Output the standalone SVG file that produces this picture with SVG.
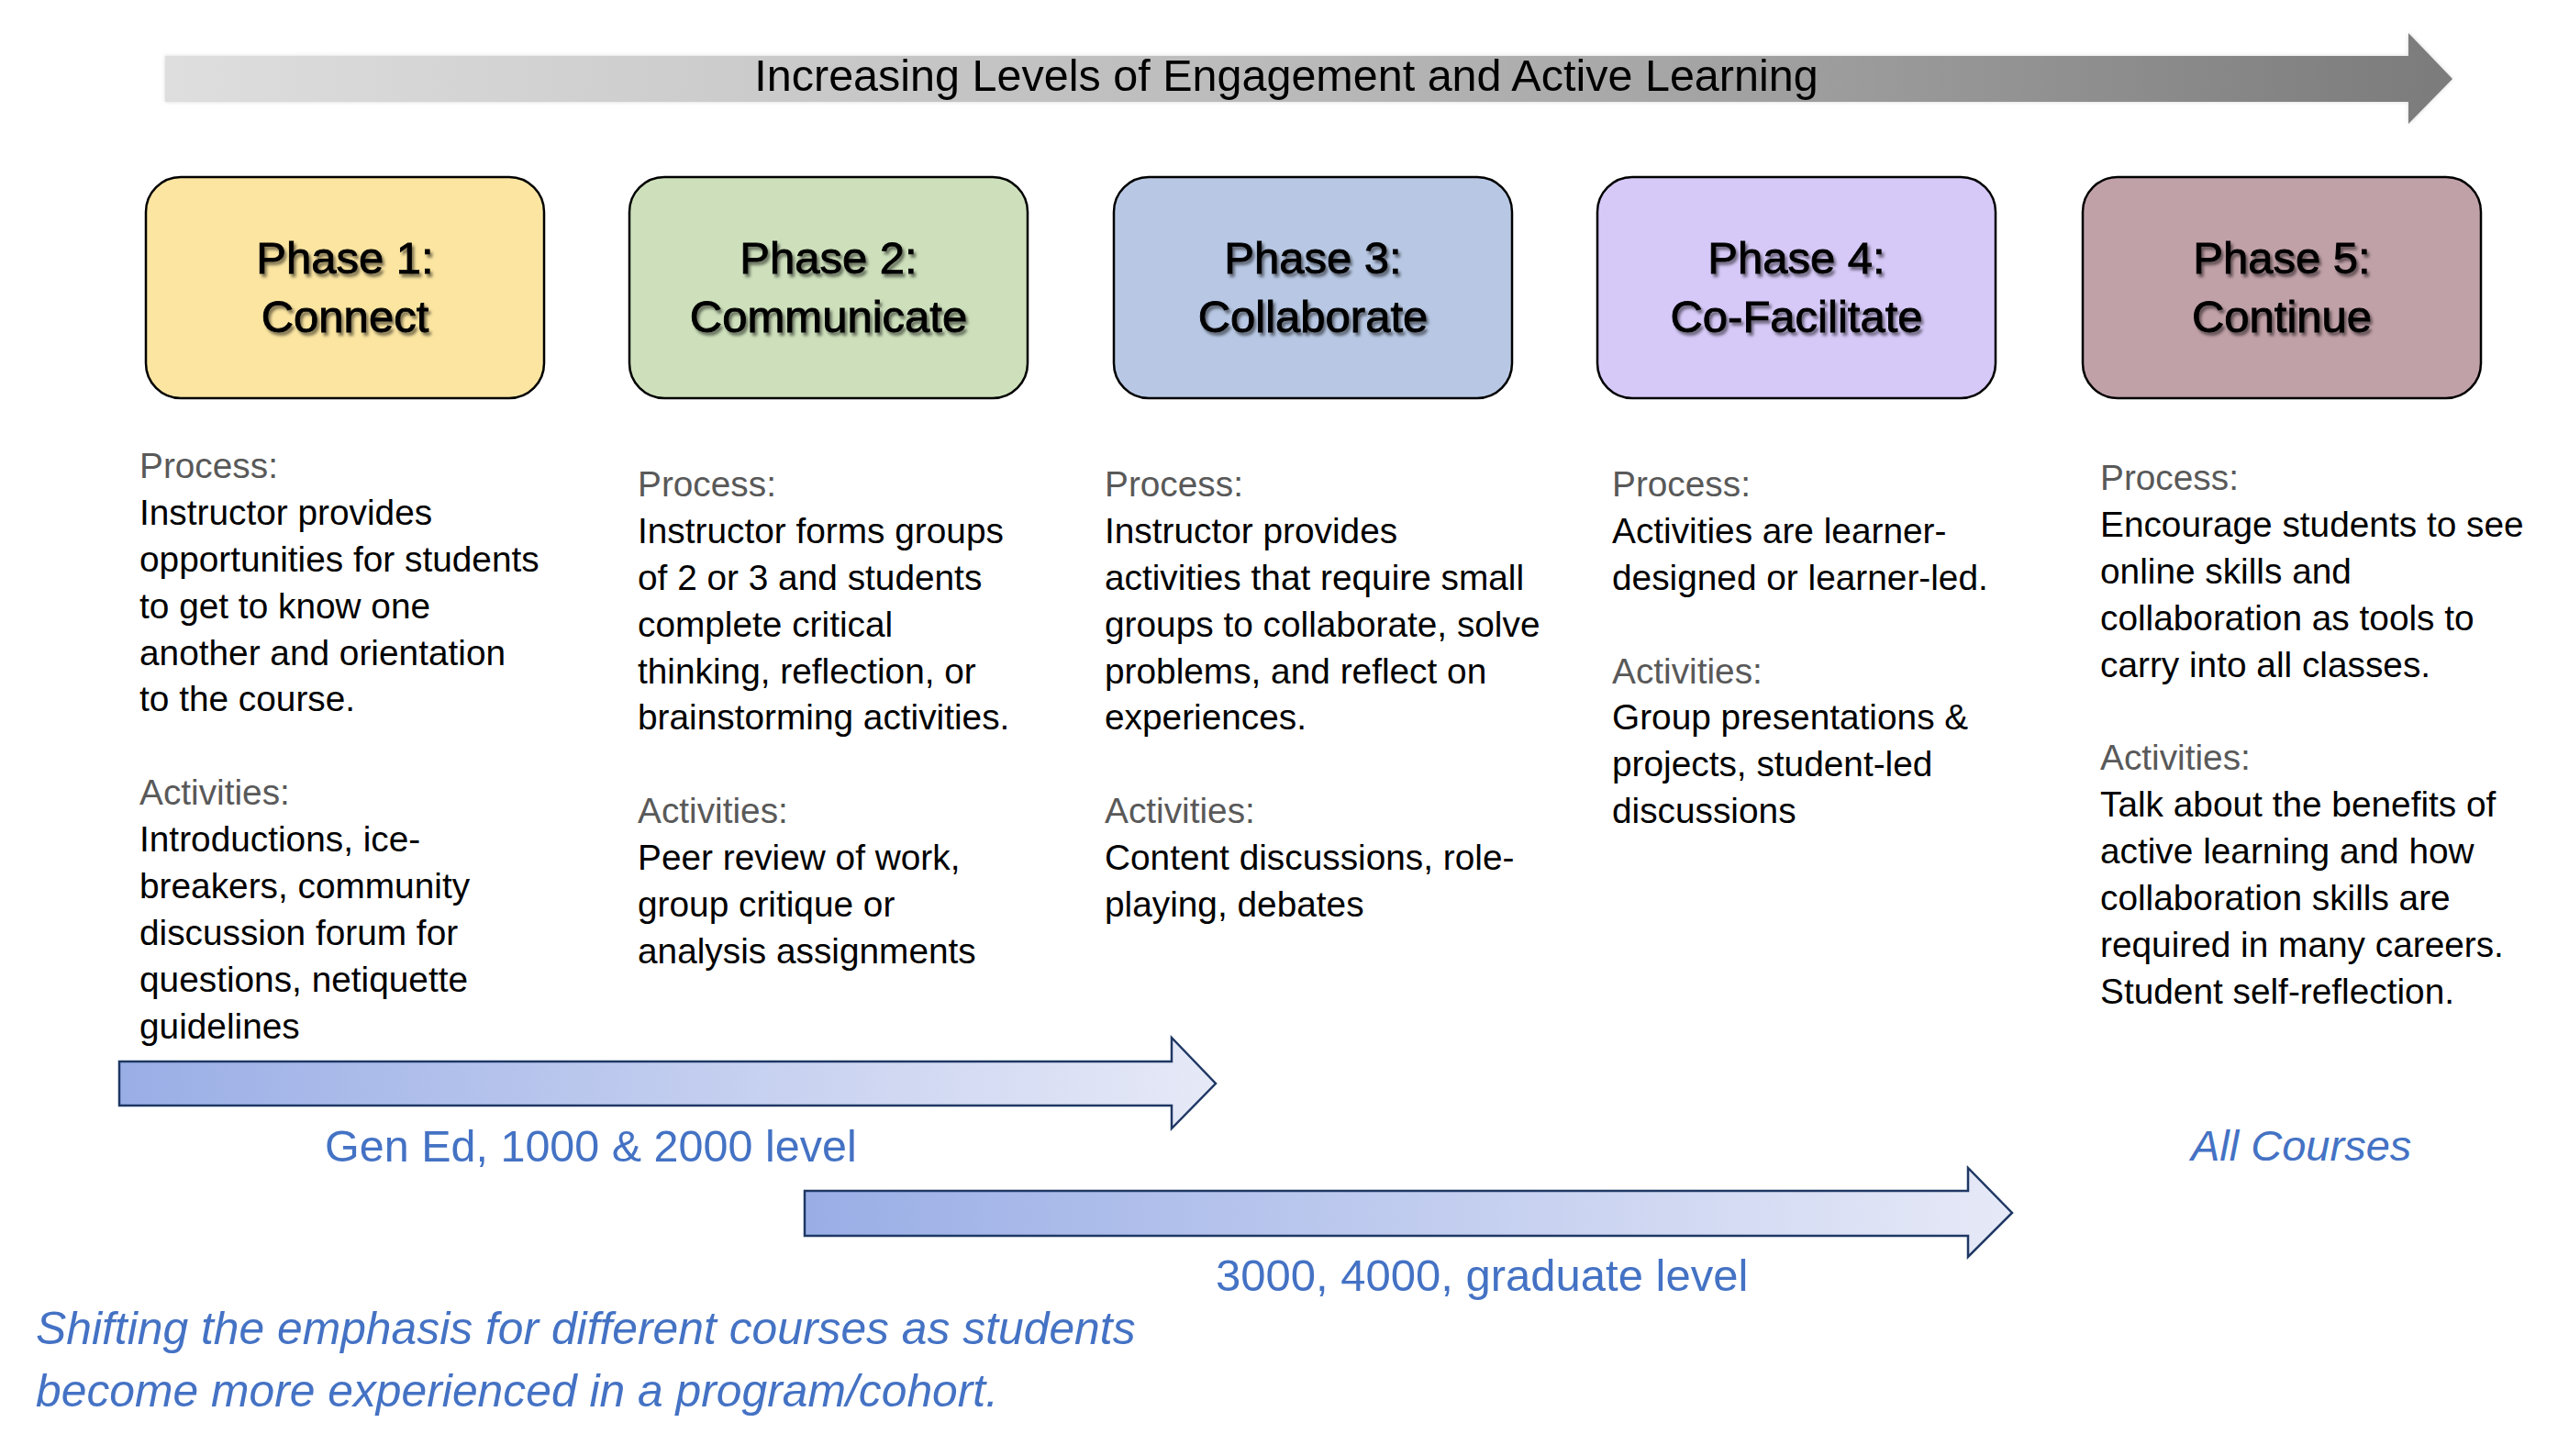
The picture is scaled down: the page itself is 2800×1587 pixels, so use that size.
<svg xmlns="http://www.w3.org/2000/svg" width="2800" height="1587" viewBox="0 0 2800 1587">
<defs>
  <linearGradient id="gTop" x1="0" y1="0" x2="1" y2="0">
    <stop offset="0" stop-color="#dedede"/>
    <stop offset="0.5" stop-color="#b9b9b9"/>
    <stop offset="1" stop-color="#7b7b7b"/>
  </linearGradient>
  <linearGradient id="gBlue" x1="0" y1="0" x2="1" y2="0">
    <stop offset="0" stop-color="#9aaee6"/>
    <stop offset="1" stop-color="#e6e9f7"/>
  </linearGradient>
  <filter id="shadow" x="-10%" y="-20%" width="130%" height="150%">
    <feDropShadow dx="2.5" dy="3.5" stdDeviation="1.8" flood-color="#000" flood-opacity="0.5"/>
  </filter>
  <filter id="glow" x="-5%" y="-30%" width="110%" height="160%">
    <feDropShadow dx="0" dy="0" stdDeviation="2" flood-color="#bbbbbb" flood-opacity="0.6"/>
  </filter>
</defs>
<style>
  .box { stroke: #000; stroke-width: 2.5; }
  .ph { font-family: "Liberation Sans", Arial, sans-serif; font-size: 49px; fill: #000; stroke: #000; stroke-width: 0.9; text-anchor: middle; filter: url(#shadow); }
  .body { font-family: "Liberation Sans", Arial, sans-serif; font-size: 38.8px; fill: #000; }
  .lbl { fill: #595959; }
  .blue { font-family: "Liberation Sans", Arial, sans-serif; fill: #4472c4; }
  .arr { stroke: #1f3864; stroke-width: 2.5; fill: url(#gBlue); }
</style>
<rect width="2800" height="1587" fill="#ffffff"/>

<g id="connectors">
  <g id="top-arrow">
    <polygon points="180,61 2625,61 2625,36 2673,86 2625,135 2625,111 180,111" fill="url(#gTop)" filter="url(#glow)"/>
    <text x="1402" y="99" font-family="Liberation Sans, Arial, sans-serif" font-size="48.5" fill="#000" text-anchor="middle">Increasing Levels of Engagement and Active Learning</text>
  </g>
  <g id="arrow-gened">
    <polygon class="arr" points="130,1157 1277,1157 1277,1131 1325,1181 1277,1230 1277,1205 130,1205"/>
    <text class="blue" x="354" y="1266" font-size="48.5">Gen Ed, 1000 &amp; 2000 level</text>
  </g>
  <g id="arrow-upper">
    <polygon class="arr" points="877,1298 2145,1298 2145,1273 2193,1322 2145,1370 2145,1347 877,1347"/>
    <text class="blue" x="1325" y="1407" font-size="49">3000, 4000, graduate level</text>
  </g>
</g>

<g id="phase1">
  <rect class="box" x="159" y="193" width="434" height="241" rx="38" fill="#fbe5a1"/>
  <text class="ph" x="376" y="298">Phase 1:</text>
  <text class="ph" x="376" y="362">Connect</text>
</g>
<g id="phase2">
  <rect class="box" x="686" y="193" width="434" height="241" rx="38" fill="#cde0bb"/>
  <text class="ph" x="903" y="298">Phase 2:</text>
  <text class="ph" x="903" y="362">Communicate</text>
</g>
<g id="phase3">
  <rect class="box" x="1214" y="193" width="434" height="241" rx="38" fill="#b8c8e4"/>
  <text class="ph" x="1431" y="298">Phase 3:</text>
  <text class="ph" x="1431" y="362">Collaborate</text>
</g>
<g id="phase4">
  <rect class="box" x="1741" y="193" width="434" height="241" rx="38" fill="#d6c9f8"/>
  <text class="ph" x="1958" y="298">Phase 4:</text>
  <text class="ph" x="1958" y="362">Co-Facilitate</text>
</g>
<g id="phase5">
  <rect class="box" x="2270" y="193" width="434" height="241" rx="38" fill="#c1a1a8"/>
  <text class="ph" x="2487" y="298">Phase 5:</text>
  <text class="ph" x="2487" y="362">Continue</text>
</g>

<g id="text-col1">
  <text class="body">
    <tspan class="lbl" x="152" y="521">Process:</tspan>
    <tspan x="152" y="572">Instructor provides</tspan>
    <tspan x="152" y="623">opportunities for students</tspan>
    <tspan x="152" y="674">to get to know one</tspan>
    <tspan x="152" y="725">another and orientation</tspan>
    <tspan x="152" y="775">to the course.</tspan>
    <tspan class="lbl" x="152" y="877">Activities:</tspan>
    <tspan x="152" y="928">Introductions, ice-</tspan>
    <tspan x="152" y="979">breakers, community</tspan>
    <tspan x="152" y="1030">discussion forum for</tspan>
    <tspan x="152" y="1081">questions, netiquette</tspan>
    <tspan x="152" y="1132">guidelines</tspan>
  </text>
</g>
<g id="text-col2">
  <text class="body">
    <tspan class="lbl" x="695" y="541">Process:</tspan>
    <tspan x="695" y="592">Instructor forms groups</tspan>
    <tspan x="695" y="643">of 2 or 3 and students</tspan>
    <tspan x="695" y="694">complete critical</tspan>
    <tspan x="695" y="745">thinking, reflection, or</tspan>
    <tspan x="695" y="795">brainstorming activities.</tspan>
    <tspan class="lbl" x="695" y="897">Activities:</tspan>
    <tspan x="695" y="948">Peer review of work,</tspan>
    <tspan x="695" y="999">group critique or</tspan>
    <tspan x="695" y="1050">analysis assignments</tspan>
  </text>
</g>
<g id="text-col3">
  <text class="body">
    <tspan class="lbl" x="1204" y="541">Process:</tspan>
    <tspan x="1204" y="592">Instructor provides</tspan>
    <tspan x="1204" y="643">activities that require small</tspan>
    <tspan x="1204" y="694">groups to collaborate, solve</tspan>
    <tspan x="1204" y="745">problems, and reflect on</tspan>
    <tspan x="1204" y="795">experiences.</tspan>
    <tspan class="lbl" x="1204" y="897">Activities:</tspan>
    <tspan x="1204" y="948">Content discussions, role-</tspan>
    <tspan x="1204" y="999">playing, debates</tspan>
  </text>
</g>
<g id="text-col4">
  <text class="body">
    <tspan class="lbl" x="1757" y="541">Process:</tspan>
    <tspan x="1757" y="592">Activities are learner-</tspan>
    <tspan x="1757" y="643">designed or learner-led.</tspan>
    <tspan class="lbl" x="1757" y="745">Activities:</tspan>
    <tspan x="1757" y="795">Group presentations &amp;</tspan>
    <tspan x="1757" y="846">projects, student-led</tspan>
    <tspan x="1757" y="897">discussions</tspan>
  </text>
</g>
<g id="text-col5">
  <text class="body">
    <tspan class="lbl" x="2289" y="534">Process:</tspan>
    <tspan x="2289" y="585">Encourage students to see</tspan>
    <tspan x="2289" y="636">online skills and</tspan>
    <tspan x="2289" y="687">collaboration as tools to</tspan>
    <tspan x="2289" y="738">carry into all classes.</tspan>
    <tspan class="lbl" x="2289" y="839">Activities:</tspan>
    <tspan x="2289" y="890">Talk about the benefits of</tspan>
    <tspan x="2289" y="941">active learning and how</tspan>
    <tspan x="2289" y="992">collaboration skills are</tspan>
    <tspan x="2289" y="1043">required in many careers.</tspan>
    <tspan x="2289" y="1094">Student self-reflection.</tspan>
  </text>
</g>

<g id="all-courses">
  <text class="blue" x="2388" y="1265" font-size="47" font-style="italic">All Courses</text>
</g>
<g id="footer">
  <text class="blue" font-size="49.8" font-style="italic">
    <tspan x="39" y="1465">Shifting the emphasis for different courses as students</tspan>
    <tspan x="39" y="1533">become more experienced in a program/cohort.</tspan>
  </text>
</g>
</svg>
